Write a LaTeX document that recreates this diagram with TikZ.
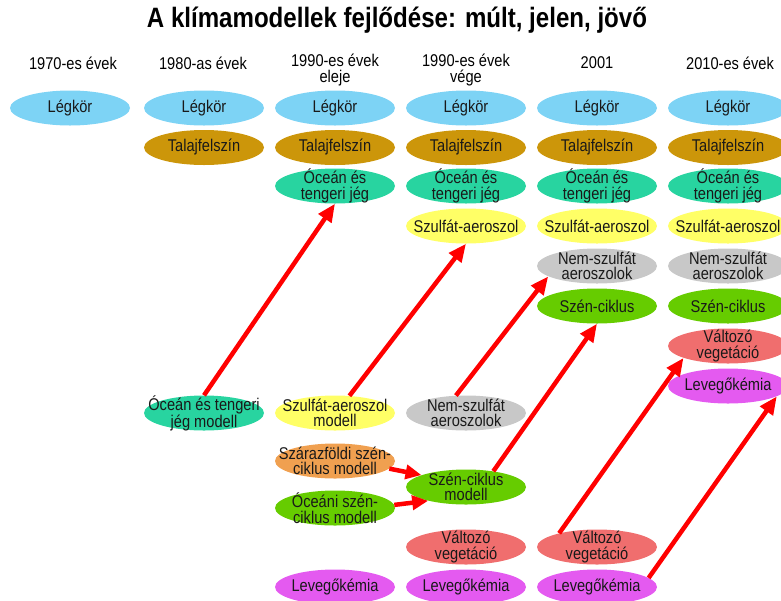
\documentclass[tikz,border=0pt]{standalone}
\usepackage{fontspec}
\setmainfont{Liberation Sans}[FakeStretch=0.86]
\usetikzlibrary{shapes.geometric,arrows.meta}
\definecolor{cLeg}{RGB}{125,211,245}
\definecolor{cTal}{RGB}{204,150,10}
\definecolor{cOce}{RGB}{40,212,160}
\definecolor{cSzu}{RGB}{255,255,102}
\definecolor{cNem}{RGB}{200,200,200}
\definecolor{cSzen}{RGB}{102,204,0}
\definecolor{cVal}{RGB}{240,110,110}
\definecolor{cLev}{RGB}{228,90,240}
\definecolor{cSzar}{RGB}{240,160,80}
\definecolor{cArr}{RGB}{255,0,0}
\begin{document}
\begin{tikzpicture}[x=1pt,y=-1pt,
  blob/.style={ellipse,minimum width=120pt,minimum height=35pt,inner xsep=-35pt,inner ysep=-12pt,align=center,
    font=\fontsize{17}{15.5}\selectfont,text=black!90},
  hdr/.style={align=center,font=\fontsize{17}{15.5}\selectfont},
  leg/.style={blob,fill=cLeg},
  tal/.style={blob,fill=cTal},
  oce/.style={blob,fill=cOce},
  szu/.style={blob,fill=cSzu},
  nem/.style={blob,fill=cNem},
  szen/.style={blob,fill=cSzen},
  val/.style={blob,fill=cVal},
  lev/.style={blob,fill=cLev},
  szar/.style={blob,fill=cSzar},
  redarrow/.style={draw=cArr,line width=4.5pt,-{Triangle[length=18pt,width=15pt]}},
  redshort/.style={draw=cArr,line width=4.5pt,-{Triangle[length=16pt,width=14pt]}}]
\useasboundingbox (0,0) rectangle (781,600);
\clip (0,0) rectangle (781,600);
% title
\node[font=\fontsize{28}{30}\selectfont\bfseries] (title) at (397,20) {A klímamodellek fejlődése: múlt, jelen, jövő};
% headers
\node[hdr] (h1) at (73,63) {1970-es évek};
\node[hdr] (h2) at (203,63) {1980-as évek};
\node[hdr] (h3) at (335,70) {1990-es évek\\eleje};
\node[hdr] (h4) at (466,70) {1990-es évek\\vége};
\node[hdr] (h5) at (597,63) {2001};
\node[hdr] (h6) at (730,63) {2010-es évek};
% row Légkör
\node[leg] (l1) at (70,108) {Légkör};
\node[leg] (l2) at (204,108) {Légkör};
\node[leg] (l3) at (335,108) {Légkör};
\node[leg] (l4) at (466,108) {Légkör};
\node[leg] (l5) at (597,108) {Légkör};
\node[leg] (l6) at (728,108) {Légkör};
% row Talajfelszín
\node[tal] (t2) at (204,147.5) {Talajfelszín};
\node[tal] (t3) at (335,147.5) {Talajfelszín};
\node[tal] (t4) at (466,147.5) {Talajfelszín};
\node[tal] (t5) at (597,147.5) {Talajfelszín};
\node[tal] (t6) at (728,147.5) {Talajfelszín};
% row Óceán
\node[oce] (o3) at (335,186) {Óceán és\\tengeri jég};
\node[oce] (o4) at (466,186) {Óceán és\\tengeri jég};
\node[oce] (o5) at (597,186) {Óceán és\\tengeri jég};
\node[oce] (o6) at (728,186) {Óceán és\\tengeri jég};
% row Szulfát
\node[szu] (s4) at (466,226) {Szulfát-aeroszol};
\node[szu] (s5) at (597,226) {Szulfát-aeroszol};
\node[szu] (s6) at (728,226) {Szulfát-aeroszol};
% row Nem-szulfát
\node[nem] (n5) at (597,266) {Nem-szulfát\\aeroszolok};
\node[nem] (n6) at (728,266) {Nem-szulfát\\aeroszolok};
% row Szén-ciklus
\node[szen] (c5) at (597,306) {Szén-ciklus};
\node[szen] (c6) at (728,306) {Szén-ciklus};
% 2010 extra
\node[val] (v6) at (728,346) {Változó\\vegetáció};
\node[lev] (k6) at (728,386) {Levegőkémia};
% bottom models
\node[oce] (om2) at (204,413) {Óceán és tengeri\\jég modell};
\node[szu] (sm3) at (335,413) {Szulfát-aeroszol\\modell};
\node[nem] (nm4) at (466,413) {Nem-szulfát\\aeroszolok};
\node[szar] (sz3) at (335,461) {Szárazföldi szén-\\ciklus modell};
\node[szen] (oc3) at (335,508) {Óceáni szén-\\ciklus modell};
\node[szen] (cm4) at (466,487) {Szén-ciklus\\modell};
\node[val] (v4) at (466,547) {Változó\\vegetáció};
\node[val] (v5) at (597,547) {Változó\\vegetáció};
\node[lev] (k3) at (335,587) {Levegőkémia};
\node[lev] (k4) at (466,587) {Levegőkémia};
\node[lev] (k5) at (597,587) {Levegőkémia};
% arrows
\draw[redarrow] (om2.north) -- (o3.south);
\draw[redarrow] (sm3.50) -- (s4.south);
\draw[redarrow] (nm4.120) -- (n5.192);
\draw[redarrow] (cm4.30) -- (c5.south);
\draw[redarrow] (v5.160) -- (v6.195);
\draw[redarrow] (k5.10) -- (k6.-12);
\draw[redshort] (sz3.-8) -- (cm4.165);
\draw[redshort] (oc3.3) -- (cm4.200);
\end{tikzpicture}
\end{document}
